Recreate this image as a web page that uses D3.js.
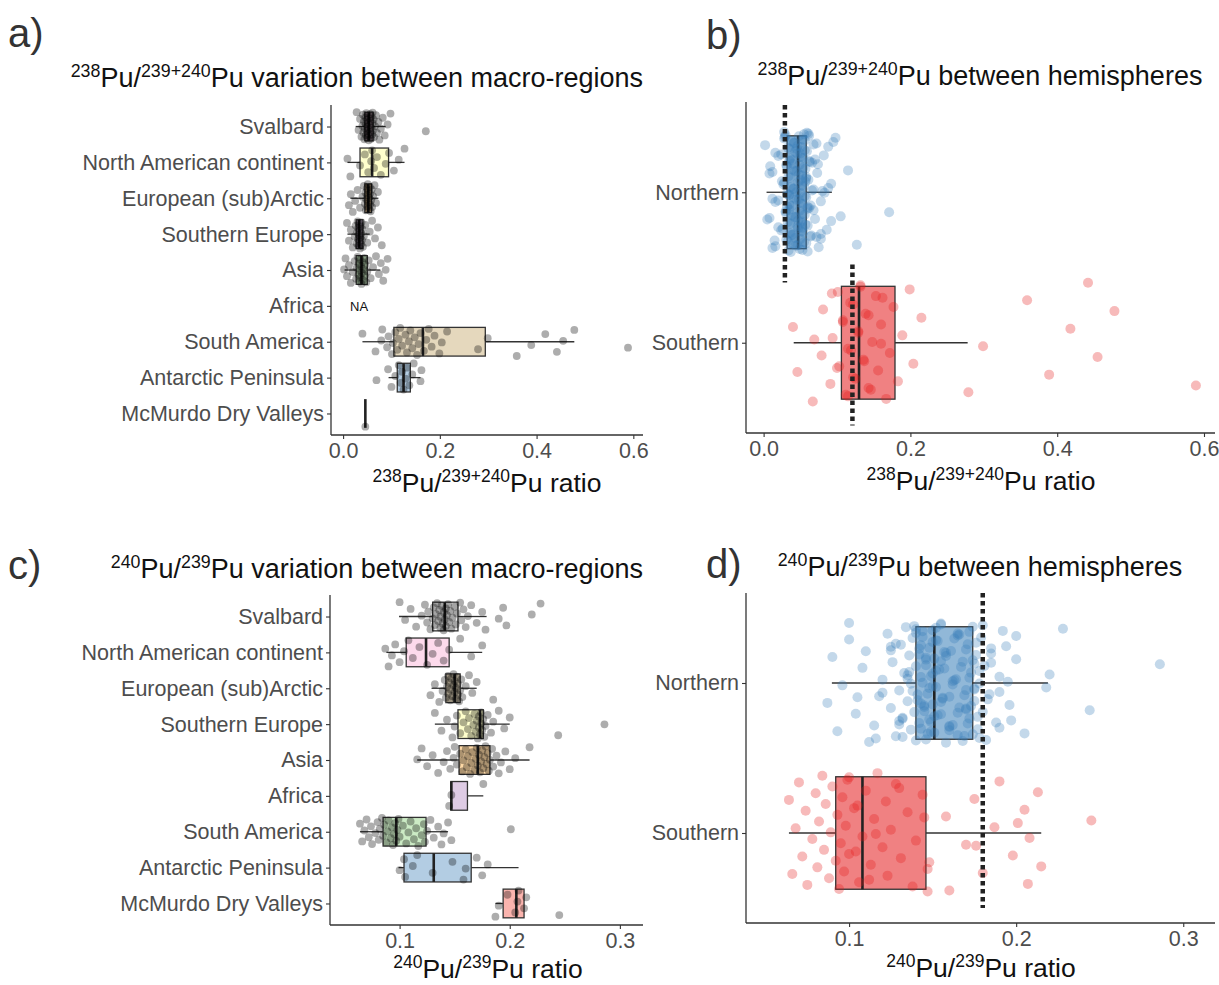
<!DOCTYPE html>
<html>
<head>
<meta charset="utf-8">
<script src="https://cdn.jsdelivr.net/npm/d3@7"></script>
<style>
  body { margin: 0; background: #fff; }
  svg { display: block; font-family: "Liberation Sans", Arial, sans-serif; }
</style>
</head>
<body>
<svg id="chart" width="1219" height="985"></svg>
<script>
// region names, top to bottom
const regions = ["Svalbard", "North American continent", "European (sub)Arctic", "Southern Europe",
	"Asia", "Africa", "South America", "Antarctic Peninsula", "McMurdo Dry Valleys"];
const hemispheres = ["Northern", "Southern"];
const regionHemisphere = ["Northern", "Northern", "Northern", "Northern", "Northern",
	"Southern", "Southern", "Southern", "Southern"];

// 238Pu/239+240Pu ratios per region
const svalbard238 = [0.028,0.032,0.035,0.038,0.040,0.041,0.042,0.043,0.044,0.045,0.046,0.047,0.047,0.048,0.049,0.049,0.050,0.050,0.051,0.052,0.052,0.053,0.053,0.054,0.054,0.055,0.056,0.056,0.057,0.058,0.058,0.059,0.060,0.061,0.061,0.062,0.063,0.064,0.066,0.068,0.070,0.073,0.075,0.078,0.082,0.086,0.092,0.098,0.171];
const northAm238 = [0.009,0.015,0.035,0.045,0.052,0.058,0.060,0.064,0.070,0.078,0.088,0.095,0.105,0.115,0.127];
const euroArctic238 = [0.012,0.016,0.020,0.025,0.030,0.035,0.040,0.043,0.045,0.046,0.047,0.048,0.049,0.050,0.050,0.051,0.052,0.053,0.053,0.054,0.055,0.056,0.056,0.057,0.058,0.059,0.060,0.062,0.065,0.068,0.072];
const southEurope238 = [0.008,0.012,0.016,0.020,0.024,0.026,0.028,0.029,0.030,0.031,0.031,0.032,0.033,0.033,0.034,0.034,0.035,0.036,0.036,0.037,0.038,0.038,0.039,0.040,0.041,0.043,0.046,0.050,0.055,0.060,0.066,0.072,0.080];
const asia238 = [0.002,0.005,0.008,0.012,0.016,0.020,0.024,0.027,0.028,0.030,0.032,0.033,0.034,0.035,0.036,0.036,0.037,0.038,0.039,0.040,0.041,0.042,0.044,0.045,0.046,0.048,0.050,0.053,0.057,0.062,0.068,0.074,0.078,0.083,0.088,0.092];
const africa238 = [];
const southAm238 = [0.040,0.067,0.079,0.081,0.091,0.094,0.101,0.103,0.108,0.112,0.115,0.118,0.122,0.129,0.132,0.136,0.139,0.143,0.148,0.153,0.156,0.160,0.167,0.172,0.177,0.183,0.189,0.199,0.204,0.215,0.279,0.299,0.359,0.389,0.418,0.442,0.455,0.478,0.589];
const antPen238 = [0.069,0.093,0.100,0.108,0.115,0.119,0.122,0.125,0.129,0.132,0.137,0.143,0.146,0.160,0.162];
const mcmurdo238 = [0.046];

// 240Pu/239Pu ratios per region
const svalbard240 = [0.100,0.105,0.110,0.115,0.120,0.123,0.125,0.126,0.128,0.130,0.131,0.132,0.133,0.134,0.135,0.136,0.137,0.137,0.138,0.139,0.140,0.140,0.141,0.142,0.142,0.143,0.144,0.145,0.146,0.147,0.148,0.150,0.151,0.152,0.155,0.156,0.158,0.160,0.162,0.165,0.170,0.175,0.178,0.190,0.194,0.197,0.220,0.228];
const northAm240 = [0.087,0.090,0.093,0.096,0.100,0.104,0.108,0.112,0.118,0.125,0.130,0.135,0.140,0.145,0.155,0.165,0.175];
const euroArctic240 = [0.128,0.132,0.136,0.139,0.141,0.142,0.143,0.144,0.144,0.145,0.146,0.146,0.147,0.148,0.149,0.149,0.150,0.150,0.151,0.151,0.152,0.153,0.153,0.154,0.155,0.156,0.157,0.160,0.163,0.166,0.170,0.185];
const southEurope240 = [0.132,0.138,0.143,0.148,0.150,0.152,0.155,0.158,0.160,0.162,0.163,0.165,0.167,0.168,0.169,0.170,0.171,0.172,0.172,0.173,0.174,0.174,0.175,0.176,0.177,0.178,0.180,0.183,0.185,0.190,0.195,0.200,0.244,0.286];
const asia240 = [0.116,0.120,0.125,0.130,0.135,0.140,0.143,0.146,0.149,0.150,0.152,0.155,0.157,0.158,0.160,0.161,0.162,0.164,0.165,0.166,0.168,0.169,0.170,0.171,0.172,0.173,0.174,0.175,0.176,0.177,0.178,0.179,0.180,0.181,0.182,0.184,0.185,0.188,0.190,0.192,0.196,0.200,0.205,0.218];
const africa240 = [0.145,0.147,0.176];
const southAm240 = [0.064,0.066,0.068,0.070,0.072,0.074,0.075,0.078,0.080,0.081,0.082,0.084,0.085,0.086,0.088,0.089,0.090,0.092,0.093,0.094,0.095,0.096,0.097,0.098,0.099,0.100,0.103,0.106,0.108,0.110,0.113,0.115,0.117,0.120,0.122,0.123,0.125,0.128,0.131,0.135,0.138,0.140,0.144,0.147,0.201];
const antPen240 = [0.100,0.104,0.105,0.112,0.116,0.130,0.148,0.158,0.160,0.170,0.175,0.180];
const mcmurdo240 = [0.187,0.190,0.198,0.205,0.207,0.208,0.213,0.215,0.245];

const pu238ByRegion = [svalbard238, northAm238, euroArctic238, southEurope238, asia238, africa238, southAm238, antPen238, mcmurdo238];
const pu240ByRegion = [svalbard240, northAm240, euroArctic240, southEurope240, asia240, africa240, southAm240, antPen240, mcmurdo240];

// box statistics: [lower whisker, Q1, median, Q3, upper whisker]
const box238Regions = [
	[0.026, 0.045, 0.053, 0.062, 0.088],
	[0.009, 0.035, 0.060, 0.094, 0.127],
	[0.015, 0.045, 0.052, 0.059, 0.073],
	[0.009, 0.027, 0.033, 0.041, 0.055],
	[0.003, 0.027, 0.038, 0.050, 0.077],
	null,
	[0.040, 0.105, 0.165, 0.294, 0.478],
	[0.094, 0.112, 0.125, 0.139, 0.160],
	[0.046, 0.046, 0.046, 0.046, 0.046]
];
const box240Regions = [
	[0.0995, 0.130, 0.141, 0.153, 0.179],
	[0.088, 0.106, 0.124, 0.145, 0.175],
	[0.129, 0.142, 0.150, 0.155, 0.170],
	[0.132, 0.153, 0.173, 0.176, 0.200],
	[0.116, 0.154, 0.171, 0.182, 0.218],
	[0.1465, 0.1465, 0.147, 0.1616, 0.176],
	[0.064, 0.085, 0.097, 0.124, 0.144],
	[0.099, 0.104, 0.131, 0.165, 0.208],
	[0.187, 0.194, 0.206, 0.213, 0.213]
];
const box238Hemis = [
	[0.004, 0.032, 0.047, 0.058, 0.093],
	[0.041, 0.106, 0.130, 0.179, 0.278]
];
const box240Hemis = [
	[0.0897, 0.140, 0.151, 0.174, 0.219],
	[0.064, 0.092, 0.108, 0.146, 0.215]
];
// dotted reference ratios
const ref238 = [0.029, 0.121];
const ref240 = [0.18];

const ticks238 = [0.0, 0.2, 0.4, 0.6];
const ticks240 = [0.1, 0.2, 0.3];

const fill238 = ["#FDDAEC", "#FFFFCC", "#FED9A6", "#DECBE4", "#CCEBC5", "#F2F2F2", "#E5D8BD", "#B3CDE3", "#FBB4AE"];
const fill240 = ["#F2F2F2", "#FDDAEC", "#E5D8BD", "#FFFFCC", "#FED9A6", "#DECBE4", "#CCEBC5", "#B3CDE3", "#FBB4AE"];
const hemiColors = ["#377EB8", "#E41A1C"];

const svg = d3.select("#chart");

// hemisphere pools are just the regional values put together
function byHemisphere(perRegion) {
	return hemispheres.map(h => perRegion.filter((v, i) => regionHemisphere[i] == h).flat());
}

// label with superscript parts: [[text, isSup], ...]
function richText(g, x, y, parts, size, anchor, color) {
	let t = g.append("text")
		.attr("x", x).attr("y", y)
		.attr("text-anchor", anchor)
		.style("font-size", size + "px")
		.style("fill", color);
	let up = false;
	parts.forEach(p => {
		let s = t.append("tspan").text(p[0]);
		if (p[1] && !up) { s.attr("dy", -size * 0.38).style("font-size", (size * 0.66) + "px"); up = true; }
		else if (p[1]) { s.style("font-size", (size * 0.66) + "px"); }
		else if (up) { s.attr("dy", size * 0.38); up = false; }
	});
	return t;
}

function drawPanel(o) {
	let g = svg.append("g");
	let x = d3.scaleLinear().domain(o.domain).range([o.x0, o.x1]);
	let y = d3.scalePoint().domain(o.cats).range([o.y0, o.y1]).padding(0.6);
	let step = y.step();
	let bh = step * o.boxFrac;

	// boxes
	let boxes = g.selectAll(".box").data(o.boxes.map((b, i) => ({ b: b, i: i })).filter(d => d.b))
		.enter().append("g");
	boxes.append("line")
		.attr("x1", d => x(d.b[0])).attr("x2", d => x(d.b[1]))
		.attr("y1", d => y(o.cats[d.i])).attr("y2", d => y(o.cats[d.i]))
		.attr("stroke", "#333").attr("stroke-width", 1.3);
	boxes.append("line")
		.attr("x1", d => x(d.b[3])).attr("x2", d => x(d.b[4]))
		.attr("y1", d => y(o.cats[d.i])).attr("y2", d => y(o.cats[d.i]))
		.attr("stroke", "#333").attr("stroke-width", 1.3);
	boxes.append("rect")
		.attr("x", d => x(d.b[1])).attr("width", d => x(d.b[3]) - x(d.b[1]))
		.attr("y", d => y(o.cats[d.i]) - bh / 2).attr("height", bh)
		.attr("fill", d => o.fills[d.i]).attr("fill-opacity", o.boxOpacity)
		.attr("stroke", "#333").attr("stroke-width", 1.3);
	boxes.append("line")
		.attr("x1", d => x(d.b[2])).attr("x2", d => x(d.b[2]))
		.attr("y1", d => y(o.cats[d.i]) - bh / 2).attr("y2", d => y(o.cats[d.i]) + bh / 2)
		.attr("stroke", "#222").attr("stroke-width", 2.6);

	// jittered points
	o.points.forEach((vals, ci) => {
		g.append("g").selectAll("circle").data(vals).enter().append("circle")
			.attr("cx", d => x(d))
			.attr("cy", (d, i) => y(o.cats[ci]) + ((i * 0.6180339887 + ci * 0.37) % 1 - 0.5) * o.jitter * step)
			.attr("r", o.r)
			.attr("fill", o.pointColors[ci])
			.attr("fill-opacity", o.pointOpacity);
	});

	// dotted reference lines
	(o.refs || []).forEach(r => {
		g.append("line")
			.attr("x1", x(r.v)).attr("x2", x(r.v))
			.attr("y1", y(o.cats[r.from]) + r.a * step).attr("y2", y(o.cats[r.to]) + r.b * step)
			.attr("stroke", "#222").attr("stroke-width", 4.5)
			.attr("stroke-dasharray", "4.5,3.5");
	});

	// axes
	let xAxis = g.append("g").attr("transform", "translate(0," + o.y1 + ")")
		.call(d3.axisBottom(x).tickValues(o.ticks).tickFormat(d3.format(".1f")).tickSizeOuter(0).tickSize(4).tickPadding(4));
	let yAxis = g.append("g").attr("transform", "translate(" + o.x0 + ",0)")
		.call(d3.axisLeft(y).tickSizeOuter(0).tickSize(4).tickPadding(3));
	[xAxis, yAxis].forEach(a => {
		a.select(".domain").attr("stroke", "#333").attr("stroke-width", 1.3);
		a.selectAll(".tick line").attr("stroke", "#333").attr("stroke-width", 1.1);
		a.selectAll(".tick text").style("font-size", "21.5px").style("fill", "#4d4d4d").style("font-family", "inherit");
	});
	xAxis.select(".domain").attr("d", "M" + o.x0 + ",0H" + o.x1);
	yAxis.select(".domain").attr("d", "M0," + o.y0 + "V" + o.y1);

	(o.na || []).forEach(ci => {
		g.append("text").attr("x", x(o.domain[0]) + 19).attr("y", y(o.cats[ci]) + 5)
			.style("font-size", "13px").style("fill", "#111").text("NA");
	});
	return g;
}

// panel a
drawPanel({
	x0: 331, x1: 643, y0: 105, y1: 435, domain: [-0.025, 0.62], ticks: ticks238,
	cats: regions, boxes: box238Regions, fills: fill238, boxOpacity: 1, boxFrac: 0.8,
	points: pu238ByRegion, pointColors: regions.map(() => "#000"), pointOpacity: 0.32, r: 3.9, jitter: 0.8,
	na: [5]
});
// panel b
drawPanel({
	x0: 746, x1: 1215, y0: 102, y1: 433, domain: [-0.024, 0.615], ticks: ticks238,
	cats: hemispheres, boxes: box238Hemis, fills: hemiColors, boxOpacity: 0.55, boxFrac: 0.75,
	points: byHemisphere(pu238ByRegion), pointColors: hemiColors, pointOpacity: 0.3, r: 5, jitter: 0.8,
	refs: [{ v: ref238[0], from: 0, to: 0, a: -0.58, b: 0.6 }, { v: ref238[1], from: 1, to: 1, a: -0.52, b: 0.55 }]
});
// panel c
drawPanel({
	x0: 330, x1: 643, y0: 595, y1: 925, domain: [0.0368, 0.321], ticks: ticks240,
	cats: regions, boxes: box240Regions, fills: fill240, boxOpacity: 1, boxFrac: 0.8,
	points: pu240ByRegion, pointColors: regions.map(() => "#000"), pointOpacity: 0.32, r: 3.9, jitter: 0.8
});
// panel d
drawPanel({
	x0: 746, x1: 1215, y0: 593, y1: 923, domain: [0.0383, 0.319], ticks: ticks240,
	cats: hemispheres, boxes: box240Hemis, fills: hemiColors, boxOpacity: 0.55, boxFrac: 0.75,
	points: byHemisphere(pu240ByRegion), pointColors: hemiColors, pointOpacity: 0.3, r: 5, jitter: 0.8,
	refs: [{ v: ref240[0], from: 0, to: 1, a: -0.6, b: 0.5 }]
});

// panel letters
[["a)", 8, 47], ["b)", 706, 49], ["c)", 8, 579], ["d)", 706, 578]].forEach(l => {
	svg.append("text").attr("x", l[1]).attr("y", l[2]).text(l[0])
		.style("font-size", "40px").style("fill", "#333").style("font-weight", "300");
});

const t238 = [["238", true], ["Pu/", false], ["239+240", true], ["Pu", false]];
const t240 = [["240", true], ["Pu/", false], ["239", true], ["Pu", false]];

richText(svg, 643, 87, t238.concat([[" variation between macro-regions", false]]), 27, "end", "#111");
richText(svg, 980, 85, t238.concat([[" between hemispheres", false]]), 27, "middle", "#111");
richText(svg, 643, 578, t240.concat([[" variation between macro-regions", false]]), 27, "end", "#111");
richText(svg, 980, 576, t240.concat([[" between hemispheres", false]]), 27, "middle", "#111");

richText(svg, 487, 492, t238.concat([[" ratio", false]]), 26.5, "middle", "#111");
richText(svg, 981, 490, t238.concat([[" ratio", false]]), 26.5, "middle", "#111");
richText(svg, 488, 978, t240.concat([[" ratio", false]]), 26.5, "middle", "#111");
richText(svg, 981, 977, t240.concat([[" ratio", false]]), 26.5, "middle", "#111");
</script>
</body>
</html>
